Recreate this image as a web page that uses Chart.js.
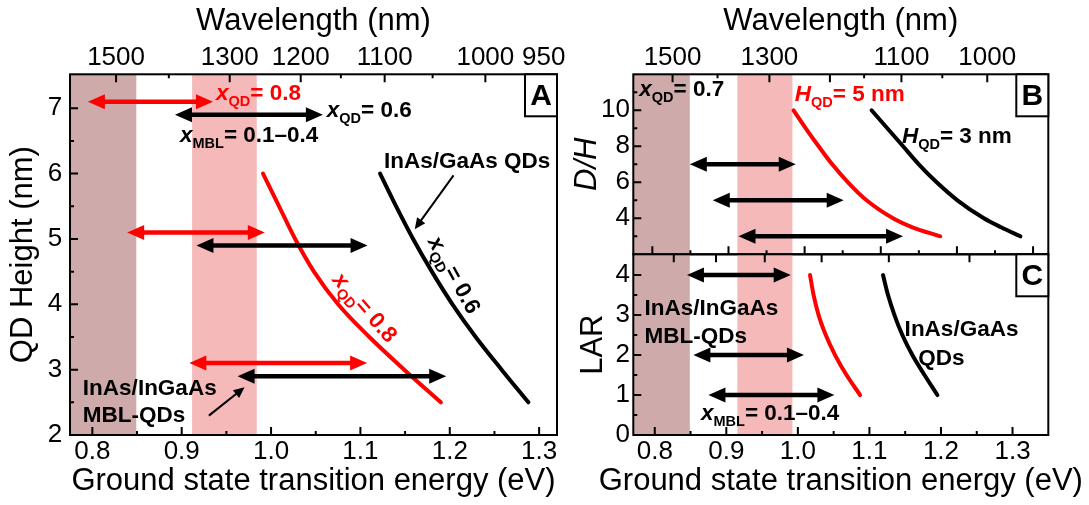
<!DOCTYPE html>
<html>
<head>
<meta charset="utf-8">
<script src="https://cdn.jsdelivr.net/npm/chart.js@4.4.1/dist/chart.umd.min.js"></script>
<style>
  html, body { margin: 0; padding: 0; background: #fff; }
  #wrap { position: relative; width: 1089px; height: 505px; overflow: hidden; }
  canvas { position: absolute; }
</style>
</head>
<body>
<div id="wrap">
  <canvas id="cA" width="600" height="505" style="left:0;top:0"></canvas>
  <canvas id="cB" width="529" height="262" style="left:560px;top:0"></canvas>
  <canvas id="cC" width="529" height="255" style="left:560px;top:250px"></canvas>
</div>
<script>
const HC = 1239.84;               // E (eV) * lambda (nm)
const RED = '#ff0000', BLACK = '#000000';
const DARK_BAND = 'rgb(207,170,170)', PINK_BAND = 'rgb(246,185,185)';
const FAM = '"Liberation Sans", Arial, Helvetica, sans-serif';

// ---------- Panel A: QD height vs. ground-state energy ----------
const heightA   = [6.0, 5.5, 5.0, 4.5, 4.0, 3.5, 3.0, 2.5];
const energyA08 = [0.991, 1.009, 1.027, 1.048, 1.075, 1.110, 1.149, 1.190];   // x_QD = 0.8
const energyA06 = [1.122, 1.140, 1.159, 1.180, 1.203, 1.229, 1.258, 1.288];   // x_QD = 0.6
// MBL tuning ranges: height level, energy from, energy to, which QD composition
const rangeLevelA = [7.1, 6.9, 5.1, 4.9, 3.1, 2.9];
const rangeFromA  = [0.795, 0.8925, 0.839, 0.9165, 0.9085, 0.9625];
const rangeToA    = [0.935, 1.058, 0.993, 1.108, 1.1075, 1.196];
const rangeSetA   = ['x08', 'x06', 'x08', 'x06', 'x08', 'x06'];

// ---------- Panel B: D/H vs. energy ----------
const dhB      = [10, 9, 8, 7, 6, 5, 4, 3.5, 3];
const energyB5 = [0.994, 1.011, 1.029, 1.048, 1.070, 1.096, 1.133, 1.160, 1.199];  // H_QD = 5 nm
const energyB3 = [1.103, 1.125, 1.147, 1.169, 1.194, 1.223, 1.260, 1.284, 1.311];  // H_QD = 3 nm
const rangeLevelB = [7, 5, 3];
const rangeFromB  = [0.849, 0.881, 0.917];
const rangeToB    = [0.997, 1.064, 1.147];

// ---------- Panel C: LAR vs. energy ----------
const larC     = [4, 3.5, 3, 2.5, 2, 1.5, 1];
const energyC5 = [1.017, 1.022, 1.029, 1.039, 1.052, 1.068, 1.087];   // InAs/InGaAs MBL-QDs
const energyC3 = [1.119, 1.126, 1.135, 1.146, 1.160, 1.177, 1.195];   // InAs/GaAs QDs
const rangeLevelC = [4, 2, 1];
const rangeFromC  = [0.845, 0.854, 0.875];
const rangeToC    = [0.990, 1.0085, 1.051];

// ---------- axis ticks ----------
const energyTicks = [0.8, 0.9, 1.0, 1.1, 1.2, 1.3];
const energyMinor = [0.85, 0.95, 1.05, 1.15, 1.25];
const wlTicksA    = [1500, 1300, 1200, 1100, 1000, 950];
const wlTicksB    = [1500, 1300, 1100, 1000];
const wlMinor     = [1400, 1150, 1050];
const wlTicksC    = [1500, 1400, 1300, 1200, 1100, 1000];
const heightTicks = [2, 3, 4, 5, 6, 7];
const heightMinor = [2.5, 3.5, 4.5, 5.5, 6.5];
const dhTicks     = [4, 6, 8, 10];
const dhMinor     = [3, 5, 7, 9, 11];
const larTicks    = [0, 1, 2, 3, 4];
const larMinor    = [0.5, 1.5, 2.5, 3.5];
// telecom windows, nm
const bandDark = [1625, 1460];
const bandPink = [1360, 1260];

const ENERGY_TITLE = 'Ground state transition energy (eV)';

Chart.defaults.font.family = FAM;
Chart.defaults.color = '#000';
const tickFont = { size: 26 };
const titleFont = { size: 31 };

function fixSize(size) {
  return s => {
    if (s.isHorizontal()) s.height = size; else s.width = size;
    s.paddingLeft = s.paddingRight = s.paddingTop = s.paddingBottom = 0;
  };
}

function axis(o) {
  return {
    type: 'linear', position: o.position, min: o.min, max: o.max,
    display: o.display !== false,
    afterBuildTicks: s => { s.ticks = o.values.map(v => ({ value: v })); },
    afterFit: fixSize(o.size || 0),
    grid: { display: false, drawTicks: false },
    border: { display: false },
    ticks: {
      font: tickFont, color: '#000', padding: o.pad || 0, autoSkip: false,
      maxRotation: 0, minRotation: 0, callback: o.label,
      display: o.values.length > 0
    },
    title: o.title ? {
      display: true, text: o.title, color: '#000',
      font: Object.assign({}, titleFont, o.titleFont || {}), padding: o.titlePad
    } : { display: false }
  };
}

function curve(xs, ys, color) {
  return {
    type: 'line', data: xs.map((x, i) => ({ x: x, y: ys[i] })),
    borderColor: color, borderWidth: 4, pointRadius: 0, fill: false,
    cubicInterpolationMode: 'monotone', borderCapStyle: 'round', borderJoinStyle: 'round',
    xAxisID: 'x', yAxisID: 'y'
  };
}

const THICK = { w: 4.5, len: 17, half: 7.5, heads: 'both' };
const THIN  = { w: 2, len: 11, half: 5, heads: 'end' };

function arrow(x1, y1, x2, y2, color, style) {
  return {
    type: 'line', data: [{ x: x1, y: y1 }, { x: x2, y: y2 }],
    showLine: false, pointRadius: 0, borderWidth: 0, borderColor: color,
    arrow: style, arrowColor: color, xAxisID: 'x', yAxisID: 'y'
  };
}

// rich text: parts = [[text, flags]] with flags 'i' italic, 's' subscript
function drawRich(ctx, parts, x, y, color, angle, align) {
  const size = 22.5, sub = 14.5;
  const fontOf = f => (f.includes('i') ? 'italic ' : '') + 'bold ' + (f.includes('s') ? sub : size) + 'px ' + FAM;
  ctx.save();
  ctx.translate(x, y);
  ctx.rotate((angle || 0) * Math.PI / 180);
  ctx.fillStyle = color;
  ctx.textBaseline = 'alphabetic';
  ctx.textAlign = 'left';
  let w = 0;
  parts.forEach(p => { ctx.font = fontOf(p[1]); w += ctx.measureText(p[0]).width; });
  let cx = align === 'center' ? -w / 2 : 0;
  parts.forEach(p => {
    ctx.font = fontOf(p[1]);
    ctx.fillText(p[0], cx, p[1].includes('s') ? 6 : 0);
    cx += ctx.measureText(p[0]).width;
  });
  ctx.restore();
}

function decor(cfg) {
  return {
    id: 'decor',
    beforeDatasetsDraw(chart) {
      const ctx = chart.ctx, a = chart.chartArea;
      const s = chart.scales[cfg.bandScale];
      ctx.save();
      ctx.beginPath();
      ctx.rect(a.left, a.top, a.right - a.left, a.bottom - a.top);
      ctx.clip();
      [[bandDark, DARK_BAND], [bandPink, PINK_BAND]].forEach(([b, col]) => {
        const p1 = s.getPixelForValue(HC / b[0]), p2 = s.getPixelForValue(HC / b[1]);
        ctx.fillStyle = col;
        ctx.fillRect(Math.min(p1, p2), a.top, Math.abs(p2 - p1), a.bottom - a.top);
      });
      ctx.restore();
    },
    afterDatasetsDraw(chart) {
      const ctx = chart.ctx, a = chart.chartArea;
      // arrows
      chart.data.datasets.forEach((ds, i) => {
        if (!ds.arrow) return;
        const pts = chart.getDatasetMeta(i).data;
        const p0 = pts[0], p1 = pts[1], st = ds.arrow;
        const dx = p1.x - p0.x, dy = p1.y - p0.y, L = Math.hypot(dx, dy);
        const ux = dx / L, uy = dy / L, nx = -uy, ny = ux;
        const s0 = st.heads === 'both' ? st.len * 0.7 : 0;
        ctx.save();
        ctx.strokeStyle = ds.arrowColor;
        ctx.fillStyle = ds.arrowColor;
        ctx.lineWidth = st.w;
        ctx.lineCap = 'butt';
        ctx.beginPath();
        ctx.moveTo(p0.x + ux * s0, p0.y + uy * s0);
        ctx.lineTo(p1.x - ux * st.len * 0.7, p1.y - uy * st.len * 0.7);
        ctx.stroke();
        const head = (px, py, vx, vy) => {
          ctx.beginPath();
          ctx.moveTo(px, py);
          ctx.lineTo(px - vx * st.len + nx * st.half, py - vy * st.len + ny * st.half);
          ctx.lineTo(px - vx * st.len - nx * st.half, py - vy * st.len - ny * st.half);
          ctx.closePath();
          ctx.fill();
        };
        head(p1.x, p1.y, ux, uy);
        if (st.heads === 'both') head(p0.x, p0.y, -ux, -uy);
        ctx.restore();
      });
      // annotations
      const sx = chart.scales.x, sy = chart.scales.y;
      cfg.notes.forEach(n => {
        drawRich(ctx, n.parts, sx.getPixelForValue(n.x), sy.getPixelForValue(n.y), n.color || BLACK, n.angle, n.align);
      });
      // inward tick marks
      ctx.save();
      ctx.strokeStyle = '#000';
      ctx.lineWidth = 2;
      ctx.beginPath();
      cfg.ticks.forEach(t => {
        const s = chart.scales[t.scale];
        t.values.forEach(v => {
          const p = s.getPixelForValue(v);
          if (t.side === 'left') {
            if (p < a.top + 2 || p > a.bottom - 2) return;
            ctx.moveTo(a.left, p); ctx.lineTo(a.left + t.len, p);
          } else {
            if (p < a.left + 2 || p > a.right - 2) return;
            const y0 = t.side === 'top' ? a.top : a.bottom;
            ctx.moveTo(p, y0); ctx.lineTo(p, y0 + (t.side === 'top' ? t.len : -t.len));
          }
        });
      });
      ctx.stroke();
      // frame
      ctx.strokeRect(a.left, a.top, a.right - a.left, a.bottom - a.top);
      // panel letter
      const bw = 32, bh = 42;
      ctx.fillStyle = '#fff';
      ctx.fillRect(a.right - bw, a.top, bw, bh);
      ctx.strokeRect(a.right - bw, a.top, bw, bh);
      ctx.fillStyle = '#000';
      ctx.font = 'bold 30px ' + FAM;
      ctx.textAlign = 'center';
      ctx.textBaseline = 'middle';
      ctx.fillText(cfg.letter, a.right - bw / 2, a.top + bh / 2 + 1);
      // bottom axis title wider than the plot: drawn at full width
      if (cfg.xTitle) {
        ctx.font = titleFont.size + 'px ' + FAM;
        ctx.fillText(cfg.xTitle, (a.left + a.right) / 2, chart.height - 24);
      }
      ctx.restore();
    }
  };
}

const e1 = v => v.toFixed(1);
const wl = list => list.map(w => HC / w);
const baseOpts = {
  responsive: false, animation: false, devicePixelRatio: 1, events: [],
  plugins: { legend: { display: false }, tooltip: { enabled: false } }
};

// ----- Panel A -----
const colA = { x08: RED, x06: BLACK };
const dsA = [
  curve(energyA08, heightA, RED),
  curve(energyA06, heightA, BLACK)
];
rangeLevelA.forEach((h, i) => dsA.push(arrow(rangeFromA[i], h, rangeToA[i], h, colA[rangeSetA[i]], THICK)));
dsA.push(arrow(1.2042, 5.974, 1.1608, 5.15, BLACK, THIN));
dsA.push(arrow(0.9304, 2.296, 0.9704, 2.73, BLACK, THIN));

new Chart(document.getElementById('cA'), {
  type: 'line',
  data: { datasets: dsA },
  options: Object.assign({}, baseOpts, {
    layout: { padding: { left: 0, right: 43, top: 0, bottom: 0 } },
    scales: {
      x: axis({ position: 'bottom', min: 0.775, max: 1.32, values: energyTicks, label: e1, pad: 1, size: 70,
        title: ENERGY_TITLE, titlePad: { top: 0, bottom: 5.4 } }),
      x2: axis({ position: 'top', min: 0.775, max: 1.32, values: wl(wlTicksA), label: (v, i) => String(wlTicksA[i]), pad: 1, size: 74.3,
        title: 'Wavelength (nm)', titlePad: { top: 2.4, bottom: 0 } }),
      y: axis({ position: 'left', min: 2, max: 7.52, values: heightTicks, label: v => String(v), pad: 7.7, size: 70,
        title: 'QD Height (nm)', titlePad: { top: 4.4, bottom: 0 } })
    }
  }),
  plugins: [decor({
    bandScale: 'x', letter: 'A',
    ticks: [
      { scale: 'x', side: 'bottom', values: energyTicks, len: 8 },
      { scale: 'x', side: 'bottom', values: energyMinor, len: 4 },
      { scale: 'x2', side: 'top', values: wl(wlTicksA), len: 8 },
      { scale: 'x2', side: 'top', values: wl(wlMinor), len: 4 },
      { scale: 'y', side: 'left', values: heightTicks, len: 8 },
      { scale: 'y', side: 'left', values: heightMinor, len: 4 }
    ],
    notes: [
      { x: 0.9384, y: 7.130, color: RED, parts: [['x', 'i'], ['QD', 's'], ['= 0.8', '']] },
      { x: 1.0624, y: 6.870, parts: [['x', 'i'], ['QD', 's'], ['= 0.6', '']] },
      { x: 0.8981, y: 6.487, parts: [['x', 'i'], ['MBL', 's'], ['= 0.1\u20130.4', '']] },
      { x: 1.1264, y: 6.089, parts: [['InAs/GaAs QDs', '']] },
      { x: 0.7894, y: 2.613, parts: [['InAs/InGaAs', '']] },
      { x: 0.7894, y: 2.199, parts: [['MBL-QDs', '']] },
      { x: 1.198, y: 4.397, angle: 61, align: 'center', parts: [['x', 'i'], ['QD', 's'], ['= 0.6', '']] },
      { x: 1.099, y: 3.881, angle: 48.7, align: 'center', color: RED, parts: [['x', 'i'], ['QD', 's'], ['= 0.8', '']] }
    ]
  })]
});

// ----- Panel B -----
const dsB = [curve(energyB5, dhB, RED), curve(energyB3, dhB, BLACK)];
rangeLevelB.forEach((v, i) => dsB.push(arrow(rangeFromB[i], v, rangeToB[i], v, BLACK, THICK)));

new Chart(document.getElementById('cB'), {
  type: 'line',
  data: { datasets: dsB },
  options: Object.assign({}, baseOpts, {
    layout: { padding: { left: 0, right: 40.7, top: 0, bottom: 7.7 } },
    scales: {
      x: axis({ position: 'bottom', min: 0.77, max: 1.35, values: [], display: false }),
      x2: axis({ position: 'top', min: 0.775, max: 1.32, values: wl(wlTicksB), label: (v, i) => String(wlTicksB[i]), pad: 1, size: 74.3,
        title: 'Wavelength (nm)', titlePad: { top: 2.4, bottom: 0 } }),
      y: axis({ position: 'left', min: 2, max: 12, values: dhTicks, label: v => String(v), pad: 3.3, size: 73.3,
        title: 'D/H', titleFont: { style: 'italic' }, titlePad: { top: 8.4, bottom: 0 } })
    }
  }),
  plugins: [decor({
    bandScale: 'x2', letter: 'B',
    ticks: [
      { scale: 'x2', side: 'bottom', values: energyTicks, len: 8 },
      { scale: 'x2', side: 'bottom', values: energyMinor, len: 4 },
      { scale: 'x2', side: 'top', values: wl(wlTicksA), len: 8 },
      { scale: 'x2', side: 'top', values: wl(wlMinor), len: 4 },
      { scale: 'y', side: 'left', values: dhTicks, len: 8 },
      { scale: 'y', side: 'left', values: dhMinor, len: 4 }
    ],
    notes: [
      { x: 0.7784, y: 10.794, parts: [['x', 'i'], ['QD', 's'], ['= 0.7', '']] },
      { x: 0.9957, y: 10.52, color: RED, parts: [['H', 'i'], ['QD', 's'], ['= 5 nm', '']] },
      { x: 1.1454, y: 8.167, parts: [['H', 'i'], ['QD', 's'], ['= 3 nm', '']] }
    ]
  })]
});

// ----- Panel C -----
const dsC = [curve(energyC5, larC, RED), curve(energyC3, larC, BLACK)];
rangeLevelC.forEach((v, i) => dsC.push(arrow(rangeFromC[i], v, rangeToC[i], v, BLACK, THICK)));

new Chart(document.getElementById('cC'), {
  type: 'line',
  data: { datasets: dsC },
  options: Object.assign({}, baseOpts, {
    layout: { padding: { left: 0, right: 40.7, top: 4.3, bottom: 0 } },
    scales: {
      x: axis({ position: 'bottom', min: 0.77, max: 1.35, values: energyTicks, label: e1, pad: 1, size: 70 }),
      xs: axis({ position: 'top', min: 0.775, max: 1.32, values: [], display: false }),
      y: axis({ position: 'left', min: 0, max: 4.52, values: larTicks, label: v => String(v), pad: 3.3, size: 73.3,
        title: 'LAR', titlePad: { top: 15.2, bottom: 0 } })
    }
  }),
  plugins: [decor({
    bandScale: 'xs', letter: 'C', xTitle: ENERGY_TITLE,
    ticks: [
      { scale: 'x', side: 'bottom', values: energyTicks, len: 8 },
      { scale: 'x', side: 'bottom', values: energyMinor, len: 4 },
      { scale: 'x', side: 'top', values: wl(wlTicksC), len: 8 },
      { scale: 'y', side: 'left', values: larTicks, len: 8 },
      { scale: 'y', side: 'left', values: larMinor, len: 4 }
    ],
    notes: [
      { x: 0.7857, y: 3.0, parts: [['InAs/InGaAs', '']] },
      { x: 0.7857, y: 2.2925, parts: [['MBL-QDs', '']] },
      { x: 1.1492, y: 2.475, parts: [['InAs/GaAs', '']] },
      { x: 1.1683, y: 1.75, parts: [['QDs', '']] },
      { x: 0.8646, y: 0.375, parts: [['x', 'i'], ['MBL', 's'], ['= 0.1\u20130.4', '']] }
    ]
  })]
});
</script>
</body>
</html>
